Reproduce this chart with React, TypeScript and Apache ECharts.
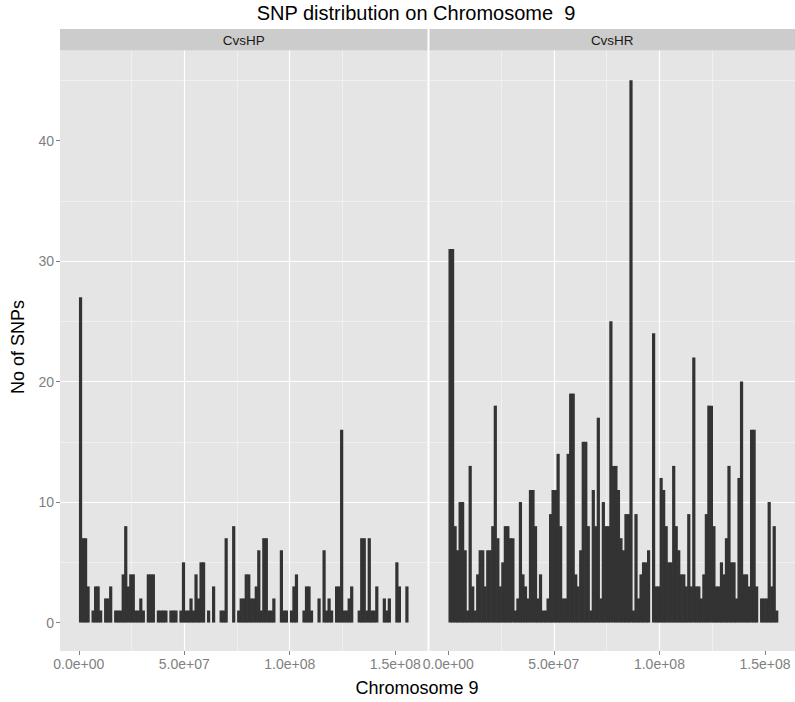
import React, { useEffect, useRef } from 'react';
import * as echarts from 'echarts';

// Facet panels
const PANELS = ['CvsHP', 'CvsHR'];

// Histogram bins along chromosome 9 (bp)
const BIN_START = 250000;
const BIN_WIDTH = 1190000;

// SNP counts per bin
const COUNTS_CVSHP = [
  27, 7, 7, 3, 0, 1, 3, 3, 1, 0,
  2, 2, 3, 0, 1, 1, 1, 4, 8, 3,
  4, 4, 1, 1, 2, 1, 0, 4, 4, 4,
  0, 1, 1, 1, 1, 0, 1, 1, 1, 0,
  1, 5, 1, 1, 2, 1, 4, 2, 5, 5,
  0, 1, 0, 3, 0, 0, 1, 1, 7, 0,
  0, 8, 0, 1, 2, 2, 4, 4, 2, 2,
  3, 6, 1, 7, 7, 1, 1, 2, 0, 0,
  6, 1, 1, 0, 1, 3, 4, 0, 0, 1,
  3, 3, 1, 0, 0, 2, 0, 6, 1, 2,
  1, 0, 3, 3, 16, 1, 1, 2, 3, 0,
  0, 1, 7, 7, 1, 7, 1, 1, 3, 0,
  0, 2, 1, 2, 0, 0, 5, 3, 0, 0,
  3,
];

const COUNTS_CVSHR = [
  31, 31, 8, 6, 10, 10, 6, 1, 13, 3,
  1, 4, 6, 6, 3, 6, 6, 8, 18, 7,
  3, 5, 8, 8, 7, 7, 1, 2, 10, 4,
  3, 2, 11, 11, 8, 2, 4, 1, 1, 2,
  9, 11, 11, 14, 8, 2, 2, 14, 19, 19,
  4, 3, 6, 15, 15, 8, 1, 11, 8, 17,
  2, 10, 8, 8, 25, 13, 13, 11, 7, 6,
  9, 9, 45, 1, 9, 2, 4, 5, 5, 6,
  0, 24, 3, 3, 12, 11, 8, 5, 5, 13,
  8, 6, 4, 4, 3, 9, 3, 22, 3, 3,
  2, 4, 9, 18, 18, 8, 3, 3, 5, 4,
  7, 13, 5, 5, 2, 12, 20, 4, 4, 3,
  16, 16, 3, 0, 2, 2, 2, 10, 3, 8,
  1,
];

const X_TICKS = [0, 5e7, 1e8, 1.5e8];
const Y_TICKS = [0, 10, 20, 30, 40];

const X_MIN = -8.9e6;
const X_MAX = [165.3e6, 164.2e6];
const Y_MIN = -2.36;
const Y_MAX = 47.47;

const TITLE = 'SNP distribution on Chromosome  9';
const X_TITLE = 'Chromosome 9';
const Y_TITLE = 'No of SNPs';

const FONT = '"Liberation Sans", Arial, Helvetica, sans-serif';

function fmtSci(v: number): string {
  const [m, e] = v.toExponential(1).split('e');
  const n = parseInt(e, 10);
  const abs = Math.abs(n);
  return `${m}e${n < 0 ? '-' : '+'}${abs < 10 ? '0' + abs : abs}`;
}

function toBins(counts: number[]) {
  return counts.map((c, i) => [BIN_START + i * BIN_WIDTH, BIN_START + (i + 1) * BIN_WIDTH, c]);
}

const GRIDS = [
  { left: 60, top: 50.5, width: 367.5, height: 600.5 },
  { left: 429.5, top: 50.5, width: 365.5, height: 600.5 },
];

export default function App() {
  const ref = useRef<HTMLDivElement>(null);

  useEffect(() => {
    document.body.style.margin = '0';
    if (!ref.current) return;
    const chart = echarts.init(ref.current, undefined, { renderer: 'svg' });

    const renderItem = (params: any, api: any) => {
      const x0 = api.value(0);
      const x1 = api.value(1);
      const y = api.value(2);
      if (!y) return null;
      const p0 = api.coord([x0, y]);
      const p1 = api.coord([x1, 0]);
      return {
        type: 'rect',
        shape: {
          x: p0[0] - 0.35,
          y: p0[1],
          width: p1[0] - p0[0] + 0.7,
          height: p1[1] - p0[1],
        },
        style: { fill: '#333333' },
      };
    };

    const allCounts = [COUNTS_CVSHP, COUNTS_CVSHR];

    const option: any = {
      animation: false,
      backgroundColor: '#FFFFFF',
      textStyle: { fontFamily: FONT },
      grid: GRIDS.map((g) => ({
        ...g,
        show: true,
        backgroundColor: '#E5E5E5',
        borderWidth: 0,
        containLabel: false,
      })),
      xAxis: GRIDS.map((_, i) => ({
        type: 'value',
        gridIndex: i,
        position: 'bottom',
        min: X_MIN,
        max: X_MAX[i],
        splitNumber: 4,
        axisLine: { show: false, onZero: false },
        axisTick: {
          show: true,
          length: 4,
          customValues: X_TICKS,
          lineStyle: { color: '#7F7F7F', width: 1 },
        },
        axisLabel: {
          customValues: X_TICKS,
          formatter: (v: number) => fmtSci(v),
          color: '#7F7F7F',
          fontSize: 14,
          margin: 6,
          fontFamily: FONT,
          hideOverlap: false,
        },
        splitLine: {
          show: true,
          showMinLine: false,
          showMaxLine: false,
          lineStyle: { color: '#FFFFFF', width: 1.2 },
        },
        minorTick: { show: false, splitNumber: 2 },
        minorSplitLine: { show: true, lineStyle: { color: '#F2F2F2', width: 0.8 } },
      })),
      yAxis: GRIDS.map((_, i) => ({
        type: 'value',
        gridIndex: i,
        position: 'left',
        min: Y_MIN,
        max: Y_MAX,
        splitNumber: 5,
        axisLine: { show: false, onZero: false },
        axisTick: {
          show: i === 0,
          length: 4,
          customValues: Y_TICKS,
          lineStyle: { color: '#7F7F7F', width: 1 },
        },
        axisLabel: {
          show: i === 0,
          customValues: Y_TICKS,
          color: '#7F7F7F',
          fontSize: 14,
          margin: 6,
          fontFamily: FONT,
        },
        splitLine: {
          show: true,
          showMinLine: false,
          showMaxLine: false,
          lineStyle: { color: '#FFFFFF', width: 1.2 },
        },
        minorTick: { show: false, splitNumber: 2 },
        minorSplitLine: { show: true, lineStyle: { color: '#F2F2F2', width: 0.8 } },
      })),
      series: allCounts.map((counts, i) => ({
        type: 'custom',
        name: PANELS[i],
        xAxisIndex: i,
        yAxisIndex: i,
        renderItem,
        encode: { x: [0, 1], y: 2 },
        data: toBins(counts),
        clip: true,
      })),
      graphic: [
        ...GRIDS.map((g, i) => ({
          type: 'group',
          children: [
            {
              type: 'rect',
              shape: { x: g.left, y: 29, width: g.width, height: 21.5 },
              style: { fill: '#CCCCCC' },
            },
            {
              type: 'text',
              x: g.left + g.width / 2,
              y: 40,
              style: {
                text: PANELS[i],
                fill: '#1A1A1A',
                font: `13.5px ${FONT}`,
                textAlign: 'center',
                textVerticalAlign: 'middle',
              },
            },
          ],
        })),
        {
          type: 'text',
          x: 416,
          y: 13,
          style: {
            text: TITLE,
            fill: '#000000',
            font: `20px ${FONT}`,
            textAlign: 'center',
            textVerticalAlign: 'middle',
          },
        },
        {
          type: 'text',
          x: 417,
          y: 688,
          style: {
            text: X_TITLE,
            fill: '#000000',
            font: `18px ${FONT}`,
            textAlign: 'center',
            textVerticalAlign: 'middle',
          },
        },
        {
          type: 'text',
          x: 18,
          y: 347,
          rotation: Math.PI / 2,
          style: {
            text: Y_TITLE,
            fill: '#000000',
            font: `18px ${FONT}`,
            textAlign: 'center',
            textVerticalAlign: 'middle',
          },
        },
      ],
    };

    chart.setOption(option);
    return () => chart.dispose();
  }, []);

  return <div ref={ref} style={{ width: 795, height: 702, overflow: 'hidden' }} />;
}
